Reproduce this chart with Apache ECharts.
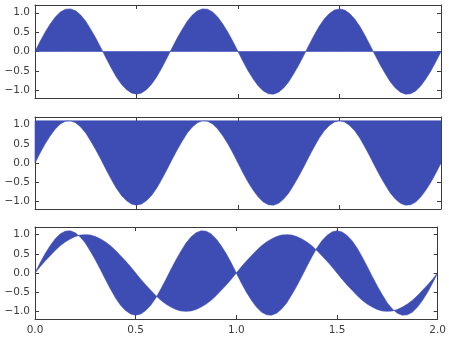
<!DOCTYPE html>
<html>
<head>
<meta charset="utf-8">
<script src="https://cdn.jsdelivr.net/npm/echarts@6/dist/echarts.min.js"></script>
<style>
  html, body { margin: 0; padding: 0; background: #ffffff; }
  #chart { width: 449px; height: 341px; }
</style>
</head>
<body>
<div id="chart"></div>
<script>
// Sample positions along x (step 0.025 from 0 to 2)
const xs = [];
for (let k = 0; k <= 80; k++) xs.push(+(k * 0.025).toFixed(3));

// Slow wave (one period per unit of x)
const y1 = [
  0, 0.16, 0.31, 0.45, 0.59, 0.71, 0.81, 0.89, 0.95, 0.99, 1.00,
  0.99, 0.95, 0.89, 0.81, 0.71, 0.59, 0.45, 0.31, 0.16, 0,
  -0.16, -0.31, -0.45, -0.59, -0.71, -0.81, -0.89, -0.95, -0.99, -1.00,
  -0.99, -0.95, -0.89, -0.81, -0.71, -0.59, -0.45, -0.31, -0.16, 0,
  0.16, 0.31, 0.45, 0.59, 0.71, 0.81, 0.89, 0.95, 0.99, 1.00,
  0.99, 0.95, 0.89, 0.81, 0.71, 0.59, 0.45, 0.31, 0.16, 0,
  -0.16, -0.31, -0.45, -0.59, -0.71, -0.81, -0.89, -0.95, -0.99, -1.00,
  -0.99, -0.95, -0.89, -0.81, -0.71, -0.59, -0.45, -0.31, -0.16, 0
];

// Faster wave with slightly larger amplitude
const y2 = [
  0, 0.26, 0.50, 0.71, 0.89, 1.02, 1.09, 1.10, 1.05, 0.94, 0.78,
  0.57, 0.34, 0.09, -0.17, -0.42, -0.65, -0.84, -0.98, -1.07, -1.10,
  -1.07, -0.98, -0.84, -0.65, -0.42, -0.17, 0.09, 0.34, 0.57, 0.78,
  0.94, 1.05, 1.10, 1.09, 1.02, 0.89, 0.71, 0.50, 0.26, 0,
  -0.26, -0.50, -0.71, -0.89, -1.02, -1.09, -1.10, -1.05, -0.94, -0.78,
  -0.57, -0.34, -0.09, 0.17, 0.42, 0.65, 0.84, 0.98, 1.07, 1.10,
  1.07, 0.98, 0.84, 0.65, 0.42, 0.17, -0.09, -0.34, -0.57, -0.78,
  -0.94, -1.05, -1.10, -1.09, -1.02, -0.89, -0.71, -0.50, -0.26, 0
];

// Constant levels used as fill bounds
const baseline = 0;
const ceiling = 1.1;

// Axis ticks
const xTicks = [0, 0.5, 1.0, 1.5, 2.0];
const yTicks = [-1.0, -0.5, 0.0, 0.5, 1.0];

const FILL = '#3e4db3';
const AXIS = '#3a3a3a';
const TEXT = '#3c3c3c';
const FONT = 'DejaVu Sans';

const fmt = v => (v < 0 ? '\u2212' : '') + Math.abs(v).toFixed(1);

const panels = [
  { top: 5,   height: 93, lower: xs.map(() => baseline), upper: y2 },
  { top: 117, height: 92, lower: y2, upper: xs.map(() => ceiling) },
  { top: 227, height: 92, lower: y1, upper: y2 }
];

const grid = [], xAxis = [], yAxis = [], series = [];

panels.forEach((p, i) => {
  grid.push({ left: 35, width: 406, top: p.top, height: p.height });
  const showX = i === panels.length - 1;
  const tickStyle = { show: true, inside: true, length: 4, lineStyle: { color: AXIS, width: 1 } };
  // bottom and top x axes
  xAxis.push({
    type: 'value', gridIndex: i, min: 0, max: 2, interval: 0.5, position: 'bottom',
    axisLine: { show: true, onZero: false, lineStyle: { color: AXIS, width: 1 } },
    axisTick: tickStyle,
    splitLine: { show: false },
    axisLabel: { show: showX, color: TEXT, fontFamily: FONT, fontSize: 10.5, margin: 6, formatter: v => v.toFixed(1) }
  });
  xAxis.push({
    type: 'value', gridIndex: i, min: 0, max: 2, interval: 0.5, position: 'top',
    axisLine: { show: true, onZero: false, lineStyle: { color: AXIS, width: 1 } },
    axisTick: tickStyle,
    splitLine: { show: false },
    axisLabel: { show: false }
  });
  // left and right y axes
  yAxis.push({
    type: 'value', gridIndex: i, min: -1.2, max: 1.2, position: 'left',
    axisLine: { show: true, onZero: false, lineStyle: { color: AXIS, width: 1 } },
    axisTick: Object.assign({ customValues: yTicks }, tickStyle),
    splitLine: { show: false },
    axisLabel: { show: true, customValues: yTicks, color: TEXT, fontFamily: FONT, fontSize: 10.5, margin: 5, formatter: fmt }
  });
  yAxis.push({
    type: 'value', gridIndex: i, min: -1.2, max: 1.2, position: 'right',
    axisLine: { show: true, onZero: false, lineStyle: { color: AXIS, width: 1 } },
    axisTick: Object.assign({ customValues: yTicks }, tickStyle),
    splitLine: { show: false },
    axisLabel: { show: false }
  });

  // Region between the lower and upper curves, drawn as one polygon
  series.push({
    type: 'custom',
    xAxisIndex: i * 2,
    yAxisIndex: i * 2,
    data: [[0, 0]],
    silent: true,
    z: 1,
    renderItem: (params, api) => {
      const pts = [];
      for (let k = 0; k < xs.length; k++) pts.push(api.coord([xs[k], p.upper[k]]));
      for (let k = xs.length - 1; k >= 0; k--) pts.push(api.coord([xs[k], p.lower[k]]));
      return {
        type: 'polygon',
        shape: { points: pts },
        style: { fill: FILL, stroke: FILL, lineWidth: 0.6 }
      };
    }
  });
});

const chart = echarts.init(document.getElementById('chart'), null, { renderer: 'canvas' });
chart.setOption({
  animation: false,
  backgroundColor: '#ffffff',
  grid, xAxis, yAxis, series
});
</script>
</body>
</html>
